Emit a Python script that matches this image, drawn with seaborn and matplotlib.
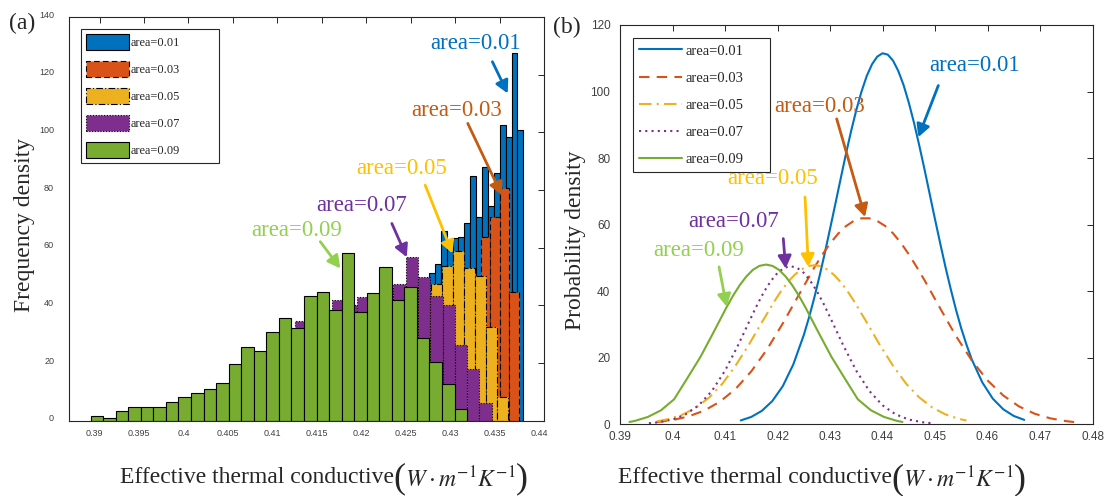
import numpy as np
import pandas as pd
import matplotlib
matplotlib.use("Agg")
import matplotlib.pyplot as plt
import matplotlib.transforms as mtransforms
import seaborn as sns

# ---------------- data ----------------
series = ["area=0.01", "area=0.03", "area=0.05", "area=0.07", "area=0.09"]

# (a) histograms: first bin edge, bin width, bar heights (frequency density)
hist_start = [0.41844, 0.40303, 0.39982, 0.39127, 0.38899]
hist_width = [0.000663, 0.001067, 0.001247, 0.001382, 0.001412]
h_001 = [1, 2, 3, 5, 7, 10, 14, 19, 24, 30, 36, 42, 46,
         51.1, 54.3, 65.9, 61.5, 63.4, 63.8, 68.4, 84.8, 70.7, 88.1, 74.4, 85.8,
         102.5, 98.5, 127.6, 100.8]
h_003 = [1, 1.5, 2, 3, 4, 5, 6, 7, 9, 11, 13, 15, 18, 20, 23, 26, 28, 31, 34,
         36, 38, 40, 42, 43, 46, 48, 50, 50, 63.8, 70.7, 80.6, 44.5]
h_005 = [1, 2, 3, 4, 5, 6, 8, 10, 13, 16, 19, 22, 25, 28, 31, 34, 37, 40, 42,
         44, 46, 43, 47.4, 53.7, 58.8, 52.8, 50.2, 32.4, 8.3]
h_007 = [0.5, 1, 1.5, 2, 2.5, 3.5, 4.5, 5.5, 7, 10, 13, 17, 19, 24, 27, 34.6,
         35, 37, 41.8, 40, 42.8, 37, 46.5, 47.5, 56.7, 50.0, 43.3, 40.1, 26.2,
         18.0, 6.3]
h_009 = [1.5, 1.0, 3.5, 4.6, 4.6, 4.6, 6.5, 8.1, 9.5, 11.1, 13.1, 19.6, 25.7,
         24.1, 30.7, 35.7, 32.1, 43.2, 44.8, 38.4, 58.3, 37.8, 44.3, 53.3, 41.8,
         46.2, 28.7, 20.2, 12.6, 4.0]
hist_heights = [h_001, h_003, h_005, h_007, h_009]

# (b) fitted probability density curves
x_001 = [0.413, 0.415, 0.417, 0.419, 0.421, 0.423, 0.425, 0.426, 0.427, 0.428,
         0.429, 0.430, 0.431, 0.432, 0.433, 0.434, 0.435, 0.436, 0.437, 0.438,
         0.439, 0.440, 0.441, 0.442, 0.443, 0.444, 0.445, 0.446, 0.447, 0.448,
         0.449, 0.450, 0.451, 0.452, 0.453, 0.454, 0.455, 0.456, 0.457, 0.459,
         0.461, 0.463, 0.465, 0.467]
y_001 = [1.16, 2.21, 4.02, 6.96, 11.45, 17.96, 26.8, 32.1, 38.0, 44.5, 51.4,
         58.7, 66.1, 73.6, 81.0, 88.0, 94.4, 100.0, 104.7, 108.2, 110.5, 111.5,
         111.1, 109.3, 106.2, 102.0, 96.7, 90.6, 83.8, 76.6, 69.1, 61.6, 54.3,
         47.2, 40.6, 34.4, 28.8, 23.9, 19.5, 12.6, 7.71, 4.51, 2.50, 1.32]
x_003 = [0.397, 0.400, 0.403, 0.406, 0.409, 0.412, 0.415, 0.418, 0.421, 0.424,
         0.427, 0.4285, 0.430, 0.4315, 0.433, 0.4345, 0.436, 0.4375, 0.439,
         0.4405, 0.442, 0.4435, 0.445, 0.4465, 0.448, 0.451, 0.454, 0.457,
         0.460, 0.463, 0.466, 0.469, 0.472, 0.475, 0.4765]
y_003 = [0.66, 1.27, 2.34, 4.08, 6.75, 10.6, 15.9, 22.5, 30.3, 38.7, 47.1, 50.9,
         54.3, 57.2, 59.5, 61.1, 61.9, 61.9, 61.1, 59.6, 57.4, 54.5, 51.1, 47.3,
         43.3, 34.8, 26.5, 19.2, 13.2, 8.65, 5.37, 3.16, 1.77, 0.94, 0.67]
x_005 = [0.397, 0.3995, 0.402, 0.4045, 0.407, 0.4095, 0.412, 0.4145, 0.417,
         0.4195, 0.42075, 0.422, 0.42325, 0.4245, 0.42575, 0.427, 0.42825,
         0.4295, 0.43075, 0.432, 0.43325, 0.4345, 0.437, 0.4395, 0.442, 0.4445,
         0.447, 0.4495, 0.452, 0.4545, 0.456]
y_005 = [0.87, 1.65, 2.96, 5.02, 8.06, 12.2, 17.6, 23.8, 30.6, 37.2, 40.2, 42.8,
         44.9, 46.5, 47.5, 47.8, 47.5, 46.5, 44.9, 42.8, 40.2, 37.2, 30.6, 23.8,
         17.6, 12.2, 8.06, 5.02, 2.96, 1.65, 1.13]
x_007 = [0.3955, 0.3975, 0.400, 0.4025, 0.405, 0.4075, 0.410, 0.4125, 0.415,
         0.41625, 0.4175, 0.41875, 0.420, 0.42125, 0.4225, 0.42375, 0.425,
         0.42625, 0.4275, 0.42875, 0.430, 0.4325, 0.435, 0.4375, 0.440, 0.4425,
         0.445, 0.4475, 0.4495]
y_007 = [0.31, 0.63, 1.43, 2.98, 5.71, 10.0, 16.1, 23.8, 32.2, 36.3, 40.0, 43.1,
         45.5, 47.0, 47.5, 47.0, 45.5, 43.1, 40.0, 36.3, 32.2, 23.8, 16.1, 10.0,
         5.71, 2.98, 1.43, 0.63, 0.31]
x_009 = [0.3918, 0.3928, 0.3953, 0.3978, 0.4003, 0.4028, 0.4053, 0.4078, 0.4103,
         0.41155, 0.4128, 0.41405, 0.4153, 0.41655, 0.4178, 0.41905, 0.4203,
         0.42155, 0.4228, 0.42405, 0.4253, 0.4278, 0.4303, 0.4328, 0.4353,
         0.4378, 0.4403, 0.4428, 0.4438]
y_009 = [0.7, 1.0, 2.2, 4.2, 7.5, 13.8, 20.2, 27.6, 35.2, 38.7, 41.8, 44.4, 46.4,
         47.6, 48.0, 47.6, 46.4, 44.4, 41.8, 38.7, 35.2, 27.6, 20.2, 13.8, 7.5,
         4.2, 2.2, 1.0, 0.7]
curve_x = [x_001, x_003, x_005, x_007, x_009]
curve_y = [y_001, y_003, y_005, y_007, y_009]

xticks_a = [0.39, 0.395, 0.4, 0.405, 0.41, 0.415, 0.42, 0.425, 0.43, 0.435, 0.44]
xtick_labels_a = ["0.39", "0.395", "0.4", "0.405", "0.41", "0.415", "0.42",
                  "0.425", "0.43", "0.435", "0.44"]
xticks_b = [0.39, 0.40, 0.41, 0.42, 0.43, 0.44, 0.45, 0.46, 0.47, 0.48]
xtick_labels_b = ["0.39", "0.4", "0.41", "0.42", "0.43", "0.44", "0.45",
                  "0.46", "0.47", "0.48"]

# ---------------- style ----------------
sns.set_style("white")
plt.rcParams["font.family"] = ["Liberation Serif", "DejaVu Serif"]
plt.rcParams["mathtext.fontset"] = "stix"

colors = ["#0072BD", "#D95319", "#EDB120", "#7E2F8E", "#77AC30"]
edge_ls = ["-", (0, (5, 3)), (0, (6, 2, 1, 2)), (0, (1, 1.5)), "-"]
line_ls = ["-", (0, (5, 3.5)), (0, (6, 2.5, 1, 2.5)), (0, (1, 2)), "-"]
ann_colors = ["#0070C0", "#C55A11", "#FFC000", "#7030A0", "#92D050"]
axis_gray = "#262626"
tick_gray = "#404040"
sans = ["Liberation Sans", "DejaVu Sans"]

fig = plt.figure(figsize=(11.06, 4.96), dpi=100)
axa = fig.add_axes([0.0627, 0.1518, 0.4292, 0.8139])
axb = fig.add_axes([0.5606, 0.1446, 0.4272, 0.8050])


def xlabel_with_units(ax, x0, y0):
    lab = ax.text(x0, y0, "Effective thermal conductive", transform=ax.transAxes,
                  fontsize=17, ha="left", va="baseline", clip_on=False)
    p1 = ax.annotate("(", xy=(1, 0.42), xycoords=lab, xytext=(-0.5, 0),
                     textcoords="offset points", ha="left", va="center",
                     fontsize=26, annotation_clip=False)
    unit = ax.annotate(r"$W\cdot m^{-1}K^{-1}$", xy=(1, 0.5), xycoords=p1,
                       xytext=(0, 0), textcoords="offset points", ha="left",
                       va="center", fontsize=17, annotation_clip=False)
    ax.annotate(")", xy=(1, 0.5), xycoords=unit, xytext=(0, 0),
                textcoords="offset points", ha="left", va="center",
                fontsize=26, annotation_clip=False)


def style_axes(ax, label_size):
    ax.tick_params(axis="both", direction="in", top=True, right=True, length=4,
                   width=0.7, colors=axis_gray, labelcolor=tick_gray,
                   labelsize=label_size)
    for lab in ax.get_xticklabels() + ax.get_yticklabels():
        lab.set_family(sans)
    for sp in ax.spines.values():
        sp.set_color(axis_gray)
        sp.set_linewidth(0.8)


# ---------------- (a) histograms ----------------
for name, start, width, heights, col, ls in zip(series, hist_start, hist_width,
                                                 hist_heights, colors, edge_ls):
    edges = [start + width * i for i in range(len(heights) + 1)]
    centers = [(edges[i] + edges[i + 1]) / 2 for i in range(len(heights))]
    df = pd.DataFrame({"x": centers, "w": heights})
    sns.histplot(data=df, x="x", weights="w", bins=edges, stat="count",
                 color=col, alpha=1, edgecolor="black", linewidth=0.8,
                 linestyle=ls, ax=axa, label=name)

axa.set_xlim(0.3866, 0.44)
axa.set_ylim(0, 140)
axa.set_xticks(xticks_a)
axa.set_xticklabels(xtick_labels_a)
axa.set_yticks(range(0, 141, 20))
style_axes(axa, 6.5)
axa.tick_params(axis="x", pad=6)
axa.tick_params(axis="y", pad=11)
# the reference's small tick labels sit slightly left of / above their ticks
shift_x = mtransforms.ScaledTranslation(-0.05, 0, fig.dpi_scale_trans)
shift_y = mtransforms.ScaledTranslation(0, 0.03, fig.dpi_scale_trans)
for lab in axa.get_xticklabels():
    lab.set_transform(lab.get_transform() + shift_x)
for lab in axa.get_yticklabels():
    lab.set_transform(lab.get_transform() + shift_y)
axa.set_xlabel("")
axa.set_ylabel("Frequency density", fontsize=17)
axa.yaxis.set_label_coords(-0.072, 0.485)
xlabel_with_units(axa, 0.107, -0.154)
leg = axa.legend(loc="upper left", bbox_to_anchor=(0.0246, 0.40, 0.2907, 0.57),
                 mode="expand", borderaxespad=0, fontsize=8.9, handlelength=3.5,
                 handleheight=1.6, labelspacing=0.9, handletextpad=0.15,
                 borderpad=0.4, fancybox=False, framealpha=1,
                 edgecolor=axis_gray)
leg.get_frame().set_linewidth(0.8)

ann_a_text = [(0.43234, 130.9), (0.43018, 107.7), (0.42393, 87.5),
              (0.41951, 74.8), (0.4122, 66.1)]
ann_a_arrow = [((0.43419, 124.5), (0.43591, 113.5)),
               ((0.43142, 103.1), (0.43524, 78.3)),
               ((0.42663, 81.7), (0.42970, 58.0)),
               ((0.42288, 68.4), (0.42456, 56.7)),
               ((0.41483, 62.1), (0.41708, 52.8))]
for name, col, (tx, ty), (s, e) in zip(series, ann_colors, ann_a_text, ann_a_arrow):
    axa.text(tx, ty, name, color=col, fontsize=16.5, ha="center", va="center")
    axa.annotate("", xy=e, xytext=s,
                 arrowprops=dict(arrowstyle="-|>,head_length=0.75,head_width=0.4",
                                 color=col, lw=2, shrinkA=0, shrinkB=0))
fig.text(0.0081, 0.953, "(a)", fontsize=17, ha="left", va="center")

# ---------------- (b) curves ----------------
for name, xs, ys, col, ls in zip(series, curve_x, curve_y, colors, line_ls):
    sns.lineplot(x=xs, y=ys, color=col, linestyle=ls, linewidth=1.5, ax=axb,
                 label=name, estimator=None)

axb.set_xlim(0.39, 0.48)
axb.set_ylim(0, 120)
axb.set_xticks(xticks_b)
axb.set_xticklabels(xtick_labels_b)
axb.set_yticks(range(0, 121, 20))
style_axes(axb, 8.5)
axb.tick_params(axis="x", pad=5)
axb.tick_params(axis="y", pad=7)
axb.set_xlabel("")
axb.set_ylabel("Probability density", fontsize=17)
axb.yaxis.set_label_coords(-0.072, 0.46)
xlabel_with_units(axb, -0.004, -0.148)
legb = axb.legend(loc="upper left", bbox_to_anchor=(0.0269, 0.40, 0.29, 0.568),
                  mode="expand", borderaxespad=0, fontsize=10.5,
                  handlelength=2.9, labelspacing=0.95, handletextpad=0.25,
                  borderpad=0.45, fancybox=False, framealpha=1,
                  edgecolor=axis_gray)
legb.get_frame().set_linewidth(0.8)

ann_b_text = [(0.45762, 107.8), (0.42796, 95.5), (0.41914, 73.8),
              (0.41168, 60.8), (0.40501, 52.3)]
ann_b_arrow = [((0.45063, 101.8), (0.44682, 86.3)),
               ((0.43127, 91.8), (0.43667, 62.3)),
               ((0.42524, 68.3), (0.42587, 47.3)),
               ((0.4211, 55.8), (0.42156, 46.8)),
               ((0.40886, 47.3), (0.41032, 35.3))]
for name, col, (tx, ty), (s, e) in zip(series, ann_colors, ann_b_text, ann_b_arrow):
    axb.text(tx, ty, name, color=col, fontsize=16.5, ha="center", va="center")
    axb.annotate("", xy=e, xytext=s,
                 arrowprops=dict(arrowstyle="-|>,head_length=0.75,head_width=0.4",
                                 color=col, lw=2, shrinkA=0, shrinkB=0))
fig.text(0.5, 0.945, "(b)", fontsize=17, ha="left", va="center")

fig.savefig("out.png", dpi=100)
